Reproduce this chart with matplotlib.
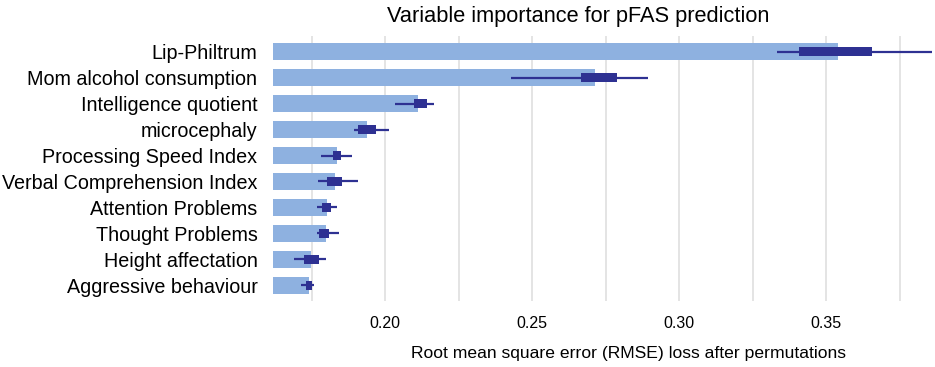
import matplotlib
matplotlib.use("Agg")
import matplotlib.pyplot as plt
import numpy as np

plt.rcParams["font.family"] = ["Liberation Sans", "DejaVu Sans"]

variables = ["Lip-Philtrum", "Mom alcohol consumption", "Intelligence quotient",
             "microcephaly", "Processing Speed Index", "Verbal Comprehension Index",
             "Attention Problems", "Thought Problems", "Height affectation",
             "Aggressive behaviour"]
importance = [0.3542, 0.2714, 0.2112, 0.1939, 0.1835, 0.1829, 0.1802, 0.1800, 0.1747, 0.1740]
q_low = [0.3409, 0.2668, 0.2097, 0.1908, 0.1823, 0.1802, 0.1785, 0.1777, 0.1726, 0.1730]
q_high = [0.3656, 0.2790, 0.2143, 0.1968, 0.1849, 0.1855, 0.1815, 0.1811, 0.1776, 0.1751]
w_low = [0.3332, 0.2429, 0.2034, 0.1893, 0.1782, 0.1773, 0.1769, 0.1770, 0.1689, 0.1714]
w_high = [0.3870, 0.2893, 0.2166, 0.2014, 0.1886, 0.1907, 0.1838, 0.1845, 0.1798, 0.1760]

bar_color = "#8EB1E0"
box_color = "#2E3192"

fig = plt.figure(figsize=(9.35, 3.67), dpi=100)
ax = fig.add_axes([0.2917, 0.1798, 0.7051, 0.7221])

y = np.arange(len(variables))
ax.barh(y, importance, height=0.67, color=bar_color, zorder=2)
ax.hlines(y, w_low, w_high, color=box_color, lw=1.6, zorder=3)
ax.barh(y, np.array(q_high) - np.array(q_low), left=q_low, height=0.32,
        color=box_color, zorder=4)

ax.set_xlim(0.1618, 0.386)
ax.set_ylim(len(variables) - 0.4, -0.6)
ax.set_yticks(y)
ax.set_yticklabels(variables, fontsize=14.2)

ticks = np.arange(0.175, 0.3751, 0.025)
ax.set_xticks(ticks)
ax.set_xticklabels(["" if i % 2 == 0 else f"{t:.2f}" for i, t in enumerate(ticks)],
                   fontsize=11.5)
ax.tick_params(axis="both", length=0)
ax.tick_params(axis="x", pad=11)
ax.tick_params(axis="y", pad=11)
ax.grid(axis="x", color="#dcdcdc", lw=1.1, zorder=0)
ax.set_axisbelow(True)
for s in ax.spines.values():
    s.set_visible(False)

ax.set_xlabel("Root mean square error (RMSE) loss after permutations", fontsize=12.6)
ax.xaxis.set_label_coords(0.540, -0.168)
ax.set_title("Variable importance for pFAS prediction", fontsize=15.7, x=0.464, pad=10)

fig.savefig("out.png", dpi=100)
